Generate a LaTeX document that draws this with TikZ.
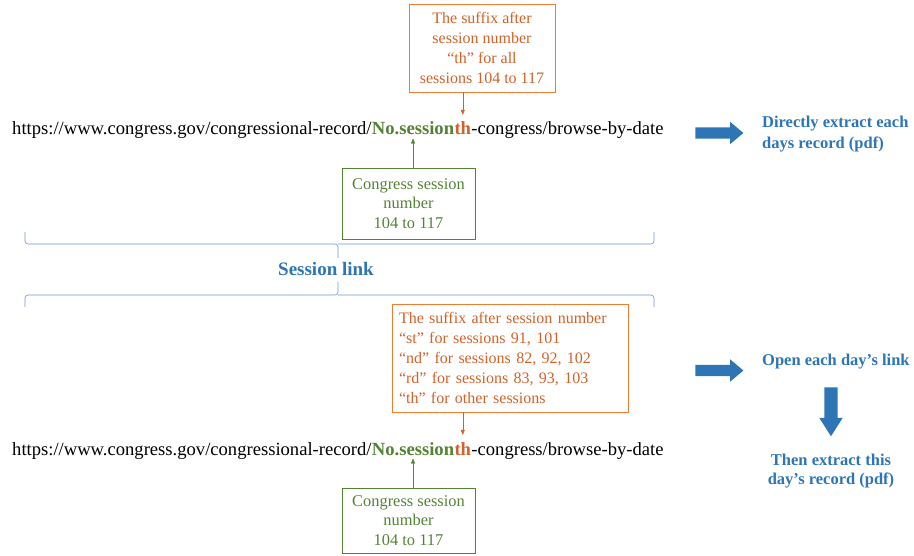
\documentclass[tikz,border=0pt]{standalone}
\usepackage{fontspec}
\setmainfont{Liberation Serif}
\usetikzlibrary{arrows.meta, positioning, shapes.arrows}

\definecolor{suforange}{HTML}{D0622A}
\definecolor{sufborder}{HTML}{ED7D31}
\definecolor{numgreen}{HTML}{548235}
\definecolor{linkblue}{HTML}{2E75B6}
\definecolor{bracecol}{HTML}{7092D0}

\begin{document}
\begin{tikzpicture}[x=1pt, y=-1pt,
url/.style={inner sep=0pt, anchor=base west, font=\fontsize{18.6}{22}\selectfont},
urlbold/.style={url, font=\fontsize{18.6}{22}\selectfont\bfseries},
sufbox/.style={draw=sufborder, text=suforange, align=center, inner sep=0pt, font=\fontsize{16}{20}\selectfont},
numbox/.style={draw=numgreen, text=numgreen, align=center, inner sep=0pt, minimum width=133, font=\fontsize{16.4}{19.5}\selectfont},
sufarrow/.style={draw=suforange, -{Triangle[length=5pt, width=4pt]}},
numarrow/.style={draw=numgreen, -{Triangle[length=5pt, width=4pt]}},
brace/.style={draw=bracecol, line width=0.6pt, rounded corners=3pt},
note/.style={text=linkblue, inner sep=0pt, font=\fontsize{16.5}{21}\selectfont\bfseries},
goarrow/.style={single arrow, fill=linkblue, inner sep=5.5pt, single arrow head extend=5.5pt, single arrow tip angle=80, minimum height=48}]
\useasboundingbox (0,0) rectangle (914,556);

%First link
\node[sufbox, minimum width=146, minimum height=88] (sufA) at (482,48) {The suffix after\\session number\\“th” for all\\sessions 104 to 117};
\node[url] (urlA) at (12,135) {https://www.congress.gov/congressional-record/};
\node[urlbold, text=numgreen] (sesA) at (urlA.base east) {No.session};
\node[urlbold, text=suforange] (thA) at (sesA.base east) {th};
\node[url] (restA) at (thA.base east) {-congress/browse-by-date};
\node[numbox, minimum height=71] (numA) at (408.5,203.5) {Congress session\\number\\104 to 117};
\draw[sufarrow, shorten >=7pt] (sufA.south -| thA.north) -- (thA.north);
\draw[numarrow, shorten >=3pt] (numA.north -| sesA.south) -- (sesA.south);

%Braces
\draw[brace] (25,232) |- (338,244) -- (338,258);
\draw[brace] (654,232) |- (338,244);
\node[note, font=\fontsize{19}{22}\selectfont\bfseries] (slink) at (326,269) {Session link};
\draw[brace] (25,307) |- (338,295) -- (338,282);
\draw[brace] (654,307) |- (338,295);

%Second link
\node[sufbox, align=left, text width=222, inner xsep=7pt, minimum height=108] (sufB) at (510,358) {The suffix after session number\\“st” for sessions 91, 101\\“nd” for sessions 82, 92, 102\\“rd” for sessions 83, 93, 103\\“th” for other sessions};
\node[url] (urlB) at (12,455) {https://www.congress.gov/congressional-record/};
\node[urlbold, text=numgreen] (sesB) at (urlB.base east) {No.session};
\node[urlbold, text=suforange] (thB) at (sesB.base east) {th};
\node[url] (restB) at (thB.base east) {-congress/browse-by-date};
\node[numbox, minimum height=65] (numB) at (408.5,520.5) {Congress session\\number\\104 to 117};
\draw[sufarrow, shorten >=7pt] (sufB.south -| thB.north) -- (thB.north);
\draw[numarrow, shorten >=3pt] (numB.north -| sesB.south) -- (sesB.south);

%Results
\node[goarrow] (goA) at (716,133) {};
\node[note, align=left, anchor=west] (noteA) at (762,134.5) {Directly extract each\\days record (pdf)};
\node[goarrow] (goB) at (716,370.5) {};
\node[note, anchor=base west] (noteB) at (762,366) {Open each day’s link};
\node[goarrow, inner sep=6.5pt, single arrow head extend=5pt, single arrow tip angle=65, minimum height=49, shape border rotate=270] (downB) at (831,406.5) {};
\node[note, align=center, below=17pt of downB, font=\fontsize{16.5}{19}\selectfont\bfseries] (noteC) {Then extract this\\day’s record (pdf)};
\end{tikzpicture}
\end{document}
